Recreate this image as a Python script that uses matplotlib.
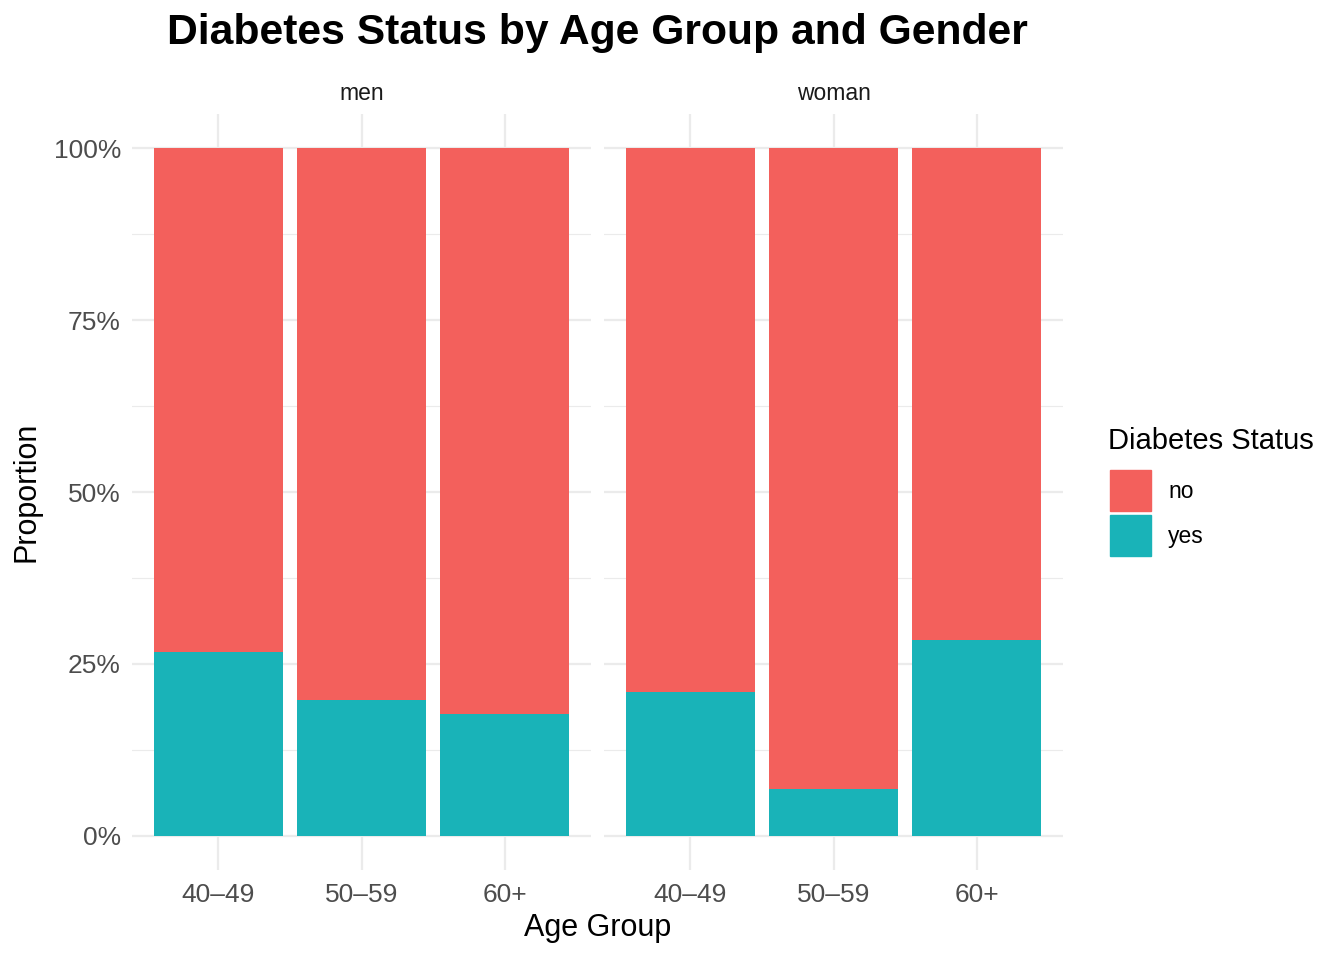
import matplotlib.pyplot as plt
from matplotlib.patches import Rectangle
from matplotlib.ticker import MultipleLocator, FuncFormatter

plt.rcParams['font.family'] = ['Liberation Sans', 'DejaVu Sans']

age_groups = ['40\u201349', '50\u201359', '60+']
genders = ['men', 'woman']
# proportion with diabetes ("yes") for each age group, per gender
yes_share = {
    'men':   [0.267, 0.198, 0.177],
    'woman': [0.209, 0.068, 0.284],
}
status = ['no', 'yes']
colors = {'no': '#F3605C', 'yes': '#19B3B8'}
grid_col = '#EBEBEB'

fig = plt.figure(figsize=(13.44, 9.6), dpi=100)
W, H = 1344, 960
ax_w = 459 / W
ax_h = (870 - 114) / H
bottom = 1 - 870 / H
lefts = [132 / W, 604 / W]

x = list(range(len(age_groups)))
for i, g in enumerate(genders):
    ax = fig.add_axes([lefts[i], bottom, ax_w, ax_h])
    yes = yes_share[g]
    no = [1 - v for v in yes]
    ax.bar(x, yes, width=0.9, color=colors['yes'], zorder=3)
    ax.bar(x, no, width=0.9, bottom=yes, color=colors['no'], zorder=3)

    ax.set_xlim(-0.6, len(age_groups) - 0.4)
    ax.set_ylim(-0.05, 1.05)
    ax.yaxis.set_major_locator(MultipleLocator(0.25))
    ax.yaxis.set_minor_locator(MultipleLocator(0.125))
    ax.yaxis.set_major_formatter(FuncFormatter(lambda v, p: f'{v*100:.0f}%'))
    ax.set_xticks(x)
    ax.set_xticklabels(age_groups)
    ax.grid(True, which='major', color=grid_col, linewidth=1.6, zorder=0)
    ax.grid(True, which='minor', axis='y', color=grid_col, linewidth=0.8, zorder=0)
    for s in ax.spines.values():
        s.set_visible(False)
    ax.tick_params(which='both', length=0, labelsize=19, labelcolor='#4D4D4D')
    ax.tick_params(axis='x', pad=9)
    ax.tick_params(axis='y', pad=8)
    if i > 0:
        ax.tick_params(axis='y', labelleft=False)
    ax.text(0.5, 1 + 21 / 756, g, transform=ax.transAxes, ha='center', va='center',
            fontsize=16.5, color='#1A1A1A')

fig.text(597.5 / W, 1 - 33 / H, 'Diabetes Status by Age Group and Gender',
         ha='center', va='center', fontsize=30.7, fontweight='bold')
fig.text(597.5 / W, 1 - 928 / H, 'Age Group', ha='center', va='center', fontsize=22)
fig.text(27 / W, 1 - 492 / H, 'Proportion', ha='center', va='center', fontsize=22,
         rotation=90)

# legend
fig.text(1108 / W, 1 - 441 / H, 'Diabetes Status', ha='left', va='center', fontsize=21)
for k, s in enumerate(status):
    top = 470 + k * 45
    fig.add_artist(Rectangle((1110 / W, 1 - (top + 41) / H), 41 / W, 41 / H,
                             transform=fig.transFigure, color=colors[s]))
    fig.text(1168 / W, 1 - (top + 21) / H, s, ha='left', va='center', fontsize=16.5)

fig.savefig('out.png', dpi=100)
